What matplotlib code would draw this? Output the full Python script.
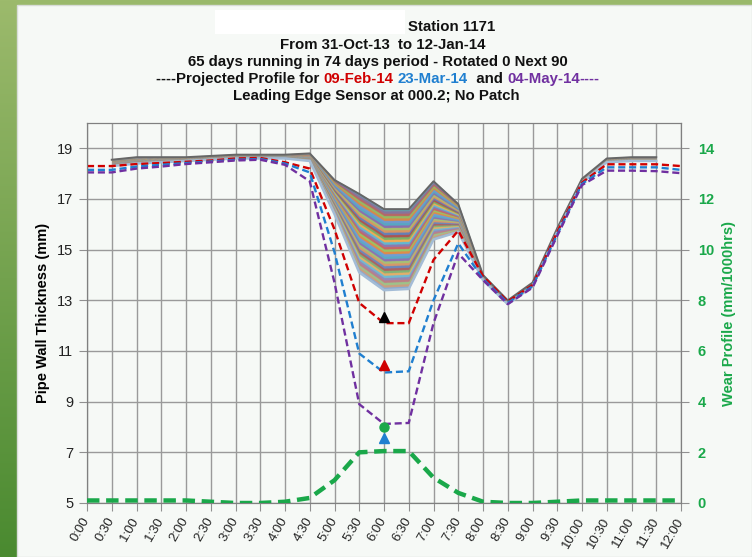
import numpy as np
import matplotlib.pyplot as plt
from matplotlib.patches import Rectangle
from matplotlib.colors import to_rgb

plt.rcParams['font.family'] = ['Liberation Sans', 'DejaVu Sans']

# ---------------- data ----------------
time_labels = ["0:00", "0:30", "1:00", "1:30", "2:00", "2:30", "3:00", "3:30", "4:00",
               "4:30", "5:00", "5:30", "6:00", "6:30", "7:00", "7:30", "8:00", "8:30",
               "9:00", "9:30", "10:00", "10:30", "11:00", "11:30", "12:00"]

# measured runs span 0:30 .. 11:30 : first (oldest) and latest readings
run_labels = time_labels[1:24]
first_run = [18.55, 18.65, 18.65, 18.65, 18.7, 18.75, 18.75, 18.75, 18.8, 17.75, 17.2,
             16.6, 16.6, 17.7, 16.8, 14.0, 13.0, 13.7, 15.85, 17.8, 18.6, 18.65, 18.65]
latest_run = [18.3, 18.4, 18.45, 18.5, 18.55, 18.6, 18.6, 18.6, 18.5, 16.4, 14.1,
              13.4, 13.45, 15.4, 15.7, 13.8, 12.85, 13.55, 15.7, 17.65, 18.45, 18.5, 18.5]

proj_feb = [18.3, 18.3, 18.38, 18.42, 18.47, 18.52, 18.6, 18.62, 18.45, 18.2, 15.8, 12.9,
            12.1, 12.1, 14.6, 15.75, 13.95, 12.95, 13.6, 15.7, 17.65, 18.37, 18.37, 18.37, 18.3]
proj_mar = [18.15, 18.15, 18.28, 18.35, 18.42, 18.48, 18.55, 18.58, 18.4, 18.05, 14.9, 10.9,
            10.15, 10.2, 13.0, 15.25, 13.85, 12.9, 13.55, 15.6, 17.6, 18.25, 18.25, 18.25, 18.15]
proj_may = [18.05, 18.05, 18.2, 18.28, 18.38, 18.45, 18.52, 18.55, 18.35, 17.7, 13.7, 8.9,
            8.12, 8.16, 12.1, 14.85, 13.8, 12.85, 13.5, 15.55, 17.55, 18.12, 18.12, 18.1, 18.02]

wear = [0.1, 0.1, 0.1, 0.1, 0.1, 0.05, 0.0, 0.0, 0.05, 0.2, 0.9, 2.0, 2.05, 2.05, 1.0, 0.4,
        0.05, 0.0, 0.0, 0.05, 0.1, 0.1, 0.1, 0.1, 0.1]

marker_time = "6:00"
marker_vals = [12.35, 10.46, 8.0, 7.57]
marker_colors = ["black", "#d00000", "#1aa84a", "#1f7fd0"]
marker_shapes = ["^", "^", "o", "^"]

left_ticks = [5, 7, 9, 11, 13, 15, 17, 19]
right_ticks = [0, 2, 4, 6, 8, 10, 12, 14]

# ---------------- figure ----------------
W, H = 752, 557
fig = plt.figure(figsize=(W / 100, H / 100), dpi=100)
fig.patch.set_facecolor('#9ab96b')

bg = fig.add_axes([0, 0, 1, 1])
bg.set_xlim(0, W)
bg.set_ylim(H, 0)
bg.axis('off')
grad = np.linspace(0, 1, 200)[:, None]
c1 = np.array(to_rgb('#9cba6c'))
c2 = np.array(to_rgb('#4a8a30'))
img = c1[None, None, :] * (1 - grad[..., None]) + c2[None, None, :] * grad[..., None]
bg.imshow(img, extent=[0, 17, H, 0], aspect='auto', zorder=0)
bg.add_patch(Rectangle((17, 5), W - 17, H - 5, facecolor='#f6f9f6', edgecolor='#d8dcd8', lw=1, zorder=1))
bg.add_patch(Rectangle((215, 10), 190, 24, facecolor='white', edgecolor='none', zorder=2))

TFS = 10.8
tkw = dict(fontsize=TFS, fontweight='bold', ha='center', va='center', color='#111111')
bg.text(452, 27, "Station 1171", **tkw)
bg.text(383, 45, "From 31-Oct-13  to 12-Jan-14", **tkw)
bg.text(378, 62, "65 days running in 74 days period - Rotated 0 Next 90", **tkw)
bg.text(376, 96, "Leading Edge Sensor at 000.2; No Patch", **tkw)
parts = [("----Projected Profile for ", '#111111'), ("09-Feb-14", '#d00000'), (" ", '#111111'),
         ("23-Mar-14", '#1f7fd0'), ("  and ", '#111111'), ("04-May-14", '#7030a0'), ("----", '#7030a0')]
fig.canvas.draw()
r = fig.canvas.get_renderer()
tmp = [bg.text(0, 79, s, fontsize=TFS, fontweight='bold', va='center', color=c) for s, c in parts]
widths = [t.get_window_extent(r).width for t in tmp]
x0 = 378 - sum(widths) / 2
for t, w in zip(tmp, widths):
    t.set_x(x0)
    x0 += w

# main axes
L, R, B, T = 87, 681, 503, 123
ax = fig.add_axes([L / W, 1 - B / H, (R - L) / W, (B - T) / H])
ax.set_facecolor('#f6f9f6')
xpos = np.arange(len(time_labels))
run_x = np.array([time_labels.index(s) for s in run_labels])

ax.set_xlim(0, len(time_labels) - 1)
ax.set_ylim(5, 20)
ax.set_yticks(left_ticks)
ax.set_xticks(xpos)
ax.set_xticklabels(time_labels, rotation=60, ha='right', va='center', rotation_mode='anchor',
                   fontsize=9.5, color='#222222')
ax.tick_params(axis='x', length=6, color='#909090', pad=5)
ax.tick_params(axis='y', length=6, color='#909090', labelsize=10.5, labelcolor='#222222', pad=4)
ax.grid(True, color='#9a9a9a', lw=1.0)
ax.set_axisbelow(True)
for s in ax.spines.values():
    s.set_color('#808080')
ax.set_ylabel("Pipe Wall Thickness (mm)", fontsize=10.5, fontweight='bold', labelpad=5)

# fan of the daily runs, shown as a striped band between first and latest profiles
first = np.array(first_run)
latest = np.array(latest_run)
gx = np.linspace(run_x[0], run_x[-1], 1100)
gy = np.linspace(12.5, 19.0, 1200)
top_i = np.interp(gx, run_x, first)
bot_i = np.interp(gx, run_x, latest)
tt = (gy[:, None] - bot_i[None, :]) / np.maximum(top_i - bot_i, 1e-6)[None, :]
palette = ['#5b8fd0', '#e07a2a', '#8cbf4a', '#c0504d', '#8064a2', '#4bb0cc', '#f2a13a',
           '#6aa84f', '#a33b38', '#4f6fb0', '#d9864a', '#9bbb59', '#7b5aa6', '#3d9fbf']
pal = np.array([to_rgb(c) for c in palette])
n_stripes = 34
idx = np.clip((tt * n_stripes).astype(int), 0, n_stripes - 1)
rgb = pal[idx % len(pal)]
light = np.array(to_rgb('#a6bed8'))
grey = np.array(to_rgb('#6e6e6e'))
w_bot = np.clip(1 - tt, 0, 1)[..., None] ** 5 * 0.5
w_top = np.clip(tt, 0, 1)[..., None] ** 12 * 0.45
rgb = rgb * 0.85 + 0.15 * np.array([0.9, 0.9, 0.9])
rgb = rgb * (1 - w_bot - w_top) + light * w_bot + grey * w_top
alpha = ((tt >= 0) & (tt <= 1)).astype(float)
rgba = np.dstack([rgb, alpha])
ax.imshow(rgba, extent=[gx[0], gx[-1], gy[0], gy[-1]], origin='lower', aspect='auto',
          interpolation='antialiased', zorder=2)
ax.plot(run_x, first, color='#666666', lw=1.4, zorder=3)
ax.plot(run_x, latest, color='#a3bcd6', lw=1.8, zorder=3)

dash = (3, 1.6)
ax.plot(xpos, proj_feb, color='#d00000', lw=1.7, dashes=dash, zorder=4)
ax.plot(xpos, proj_mar, color='#1f7fd0', lw=1.7, dashes=dash, zorder=4)
ax.plot(xpos, proj_may, color='#7030a0', lw=1.7, dashes=dash, zorder=4)

mx = time_labels.index(marker_time)
for v, c, m in zip(marker_vals, marker_colors, marker_shapes):
    ax.plot([mx], [v], marker=m, color=c, ms=6.5, ls='none', zorder=6)

ax2 = ax.twinx()
ax2.set_ylim(0, 15)
ax2.set_yticks(right_ticks)
ax2.tick_params(axis='y', length=6, color='#909090', labelsize=10.5, labelcolor='#1aa84a', pad=6)
for t in ax2.get_yticklabels():
    t.set_fontweight('bold')
ax2.plot(xpos, wear, color='#1aa84a', lw=3.2, dashes=(2.8, 1.5), zorder=5)
ax2.set_ylabel("Wear Profile (mm/1000hrs)", fontsize=10.5, fontweight='bold', color='#1aa84a', labelpad=6)
for s in ax2.spines.values():
    s.set_color('#808080')

fig.savefig('out.png', dpi=100, facecolor=fig.get_facecolor())
